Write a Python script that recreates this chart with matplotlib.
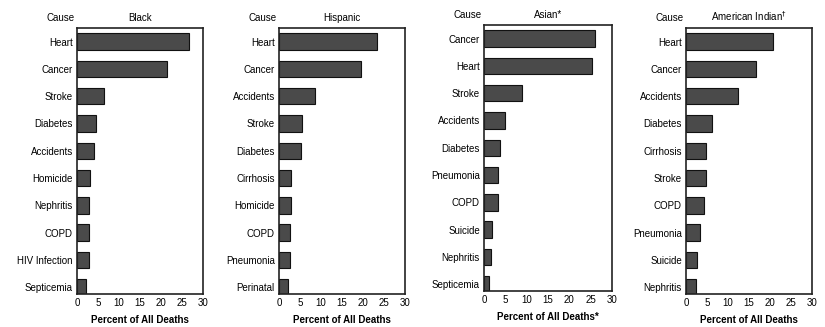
import matplotlib
matplotlib.use("Agg")
import matplotlib.pyplot as plt

plt.rcParams['font.family'] = ['Liberation Sans', 'DejaVu Sans']

black_causes = ["Heart", "Cancer", "Stroke", "Diabetes", "Accidents", "Homicide",
                "Nephritis", "COPD", "HIV Infection", "Septicemia"]
black_vals = [26.6, 21.5, 6.5, 4.5, 4.1, 3.1, 2.9, 2.9, 2.9, 2.1]

hisp_causes = ["Heart", "Cancer", "Accidents", "Stroke", "Diabetes", "Cirrhosis",
               "Homicide", "COPD", "Pneumonia", "Perinatal"]
hisp_vals = [23.3, 19.5, 8.6, 5.5, 5.2, 2.9, 2.9, 2.5, 2.5, 2.1]

asian_causes = ["Cancer", "Heart", "Stroke", "Accidents", "Diabetes", "Pneumonia",
                "COPD", "Suicide", "Nephritis", "Septicemia"]
asian_vals = [26.1, 25.2, 9.0, 4.9, 3.7, 3.2, 3.2, 1.8, 1.6, 1.2]

ai_causes = ["Heart", "Cancer", "Accidents", "Diabetes", "Cirrhosis", "Stroke",
             "COPD", "Pneumonia", "Suicide", "Nephritis"]
ai_vals = [20.7, 16.6, 12.4, 6.3, 4.7, 4.7, 4.3, 3.3, 2.6, 2.3]

titles = ["Black", "Hispanic", "Asian*", "American Indian$^{\\dagger}$"]
xlabels = ["Percent of All Deaths", "Percent of All Deaths",
           "Percent of All Deaths*", "Percent of All Deaths"]
xticks = [0, 5, 10, 15, 20, 25, 30]

W, H = 825, 327
fig = plt.figure(figsize=(W / 100, H / 100), dpi=100)

# axes boxes in pixels: (left, right, top, bottom)
boxes = [(77, 203, 28, 294), (279, 405, 28, 294), (484, 612, 25, 291), (686, 812, 28, 294)]
data = [(black_causes, black_vals), (hisp_causes, hisp_vals),
        (asian_causes, asian_vals), (ai_causes, ai_vals)]

fs = 7
for (l, r, t, b), (causes, vals), title, xl in zip(boxes, data, titles, xlabels):
    ax = fig.add_axes([l / W, 1 - b / H, (r - l) / W, (b - t) / H])
    y = list(range(len(causes)))
    ax.barh(y, vals, height=0.6, color="#4a4a4a", edgecolor="#111111", linewidth=0.8)
    ax.set_xlim(0, 30)
    ax.set_ylim(9.25, -0.5)
    ax.set_yticks(y)
    ax.set_yticklabels(causes, fontsize=fs)
    ax.tick_params(axis="y", length=0, pad=3)
    ax.set_xticks(xticks)
    ax.set_xticklabels([str(v) for v in xticks], fontsize=fs)
    ax.tick_params(axis="x", length=0, pad=3)
    for s in ax.spines.values():
        s.set_linewidth(1.2)
        s.set_color("#222222")
    ax.set_xlabel(xl, fontsize=fs, fontweight="bold", labelpad=5)
    ax.text(0.5, 1.02, title, transform=ax.transAxes, ha="center", va="bottom", fontsize=fs)
    ax.text(-0.02, 1.02, "Cause", transform=ax.transAxes, ha="right", va="bottom", fontsize=fs)

fig.savefig("out.png", dpi=100)
